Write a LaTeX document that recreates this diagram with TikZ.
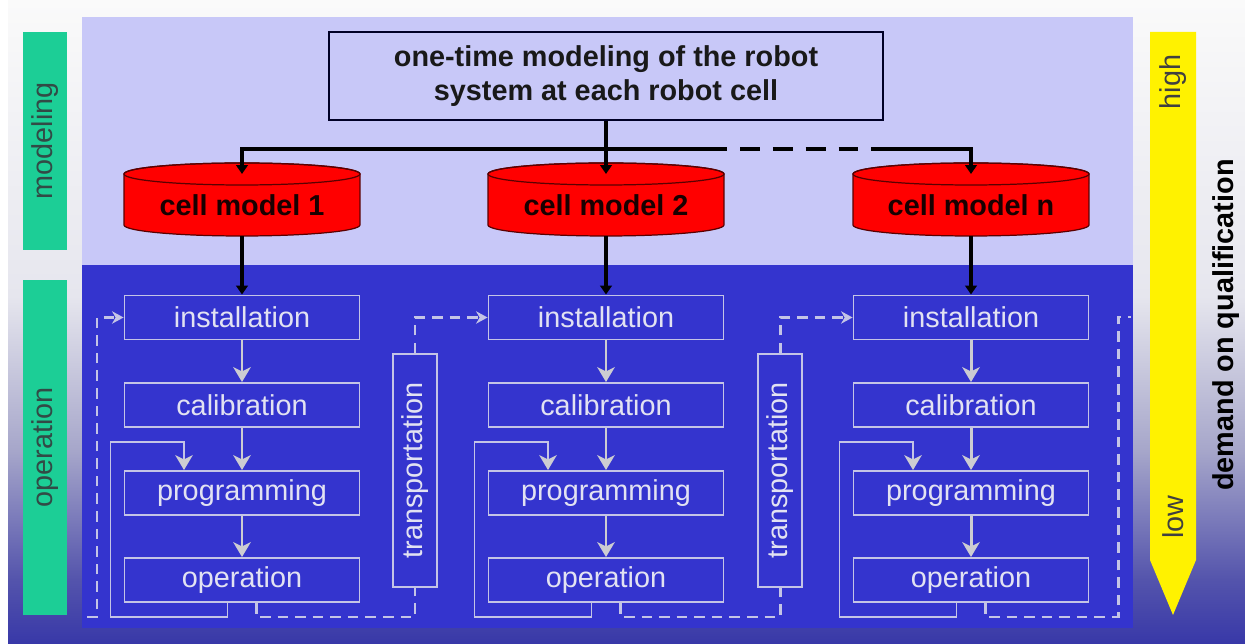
\documentclass[tikz,border=0pt]{standalone}
\usepackage{fontspec}
\setmainfont{Liberation Sans}
\usetikzlibrary{arrows.meta,calc}

\definecolor{panelhi}{RGB}{200,200,248}
\definecolor{panello}{RGB}{52,52,206}
\definecolor{bandgreen}{RGB}{28,206,150}
\definecolor{lbl}{RGB}{50,74,70}
\definecolor{stroke}{RGB}{196,196,230}
\definecolor{ink}{RGB}{226,226,242}
\definecolor{arrowgray}{RGB}{204,204,210}
\definecolor{cylred}{RGB}{255,0,0}
\definecolor{cylrimc}{RGB}{90,0,0}
\definecolor{bgbot}{RGB}{56,56,168}
\definecolor{bgmid}{RGB}{84,84,172}
\definecolor{bglight}{RGB}{166,166,202}
\definecolor{bgpale}{RGB}{230,230,238}
\definecolor{bgtop}{RGB}{250,250,250}

\pgfdeclareverticalshading{backdrop}{100bp}{color(0bp)=(bgbot); color(25bp)=(bgbot);
  color(30bp)=(bgmid); color(40bp)=(bglight); color(52bp)=(bgpale);
  color(75bp)=(bgtop); color(100bp)=(bgtop)}

\newcommand\txtsize{\fontsize{16.4}{19.3}\selectfont}

% red database cylinder with a named label node and top/bottom coordinates
\newcommand\cellcyl[3]{%
  \path[cylbody] (#2-118,174) -- (#2-118,225)
     arc[start angle=180,end angle=360,x radius=2.36cm,y radius=0.22cm]
     -- (#2+118,174)
     arc[start angle=0,end angle=180,x radius=2.36cm,y radius=0.22cm] -- cycle;
  \draw[cylrim] (#2,174) ellipse[x radius=2.36cm,y radius=0.22cm];
  \node[celltxt] (#1) at (#2,205) {#3};
  \coordinate (#1top) at (#2,174);
  \coordinate (#1bot) at (#2,236);
}

\begin{document}
\begin{tikzpicture}[x=0.02cm,y=-0.02cm,
  cylbody/.style={fill=cylred,draw=cylrimc,line width=0.7pt},
  cylrim/.style={draw=cylrimc,line width=0.7pt},
  celltxt/.style={font=\txtsize\bfseries,text=black!90!red,inner sep=0pt},
  topbox/.style={draw=black!85!blue,line width=0.9pt,fill=panelhi,
    minimum width=11.08cm,minimum height=1.76cm,inner sep=0pt,
    align=center,font=\txtsize\bfseries,text=black!90},
  opbox/.style={draw=stroke,line width=1.1pt,minimum width=4.7cm,
    minimum height=0.88cm,inner sep=0pt,text=ink,font=\txtsize},
  tbox/.style={draw=stroke,line width=1.1pt,minimum width=0.88cm,
    minimum height=4.66cm,inner sep=0pt},
  gbar/.style={fill=bandgreen,minimum width=0.88cm,inner sep=0pt},
  vlab/.style={rotate=90,font=\txtsize,inner sep=0pt},
  blk/.style={line width=2.8pt,draw=black},
  btip/.tip={Triangle[length=5pt,width=6.5pt]},
  flow/.style={draw=arrowgray,line width=1.7pt,
    -{Stealth[length=8.5pt,width=10pt,inset=2.5pt]}},
  fb/.style={draw=stroke,line width=1pt,
    -{Stealth[length=8.5pt,width=10pt,inset=2.5pt,color=arrowgray]}},
  dsh/.style={draw=stroke,line width=1.7pt,dash pattern=on 6pt off 4pt},
  dtip/.tip={Stealth[length=6.5pt,width=7pt,inset=2pt]},
]
\useasboundingbox (0,0) rectangle (1245,644);

% backdrop and the two panels
\fill[white] (0,0) rectangle (1245,644);
\shade[shading=backdrop] (8,0) rectangle (1245,644);
\fill[panelhi] (82,17) rectangle (1133,265);
\fill[panello] (82,265) rectangle (1133,628);

% phase bars on the left
\node[gbar,minimum height=4.36cm] (gmod) at (45,141) {};
\node[vlab,text=lbl] (tmod) at (gmod) {modeling};
\node[gbar,minimum height=6.7cm] (gop) at (45,447.5) {};
\node[vlab,text=lbl] (top) at (gop) {operation};

% qualification scale on the right
\fill[yellow] (1150,32) -- (1196,32) -- (1196,560) -- (1173,615) -- (1150,560) -- cycle;
\node[vlab,text=black!75] (hi) at (1173,82) {high};
\node[vlab,text=black!75] (lo) at (1173,517) {low};
\node[vlab,font=\txtsize\bfseries,text=black] (dq) at (1226,325) {demand on qualification};

% modelling stage
\node[topbox] (model) at (606,76) {one-time modeling of the robot\\system at each robot cell};
\cellcyl{cm1}{242}{cell model 1}
\cellcyl{cm2}{606}{cell model 2}
\cellcyl{cm3}{971}{cell model n}

\coordinate (j) at (606,149);
\coordinate (d1) at (727,149);
\coordinate (d2) at (875,149);
\draw[blk,-btip] (model.south) -- (cm2top);
\draw[blk,-btip] (j) -| (cm1top);
\draw[blk] (j) -- (d1);
\draw[blk,dash pattern=on 11.3pt off 7.4pt,dash phase=11.3pt] (d1) -- (d2);
\draw[blk,-btip] (d2) -| (cm3top);

% operation stage, one column per cell
\coordinate (low) at (0,617);
\coordinate (loopy) at (0,442);
\foreach \cx/\i in {242/1,606/2,971/3}{
  \node[opbox] (inst\i) at (\cx,317.5) {installation};
  \node[opbox] (cal\i) at (\cx,405) {calibration};
  \node[opbox] (prog\i) at (\cx,493) {programming};
  \node[opbox] (op\i) at (\cx,580) {operation};
  \draw[flow] (inst\i.south) -- (cal\i.north);
  \draw[flow] (cal\i.south) -- (prog\i.north);
  \draw[flow] (prog\i.south) -- (op\i.north);
  \draw[fb] ($(op\i.south)+(-14.5,0)$) |- ($(op\i.south |- low)+(-131.5,0)$)
      |- ($(prog\i.north |- loopy)+(-58,0)$) -- ($(prog\i.north)+(-58,0)$);
}
\draw[blk,-btip] (cm1bot) -- (inst1.north);
\draw[blk,-btip] (cm2bot) -- (inst2.north);
\draw[blk,-btip] (cm3bot) -- (inst3.north);

% transportation between cells
\node[tbox] (t1) at (415,470.5) {};
\node[vlab,text=ink] (t1l) at (t1) {transportation};
\node[tbox] (t2) at (780,470.5) {};
\node[vlab,text=ink] (t2l) at (t2) {transportation};

\coordinate (enter) at (87,617);
\coordinate (rc) at (1118,617);
\coordinate (exit) at (1131,317);
\draw[dsh,-dtip] (enter) -- ++(10,0) |- (inst1.west);
\draw[dsh] ($(op1.south)+(14.5,0)$) |- (t1.south |- low) -- (t1.south);
\draw[dsh,-dtip] (t1.north) |- (inst2.west);
\draw[dsh] ($(op2.south)+(14.5,0)$) |- (t2.south |- low) -- (t2.south);
\draw[dsh,-dtip] (t2.north) |- (inst3.west);
\draw[dsh] ($(op3.south)+(14.5,0)$) |- (rc) |- (exit);
\end{tikzpicture}
\end{document}
